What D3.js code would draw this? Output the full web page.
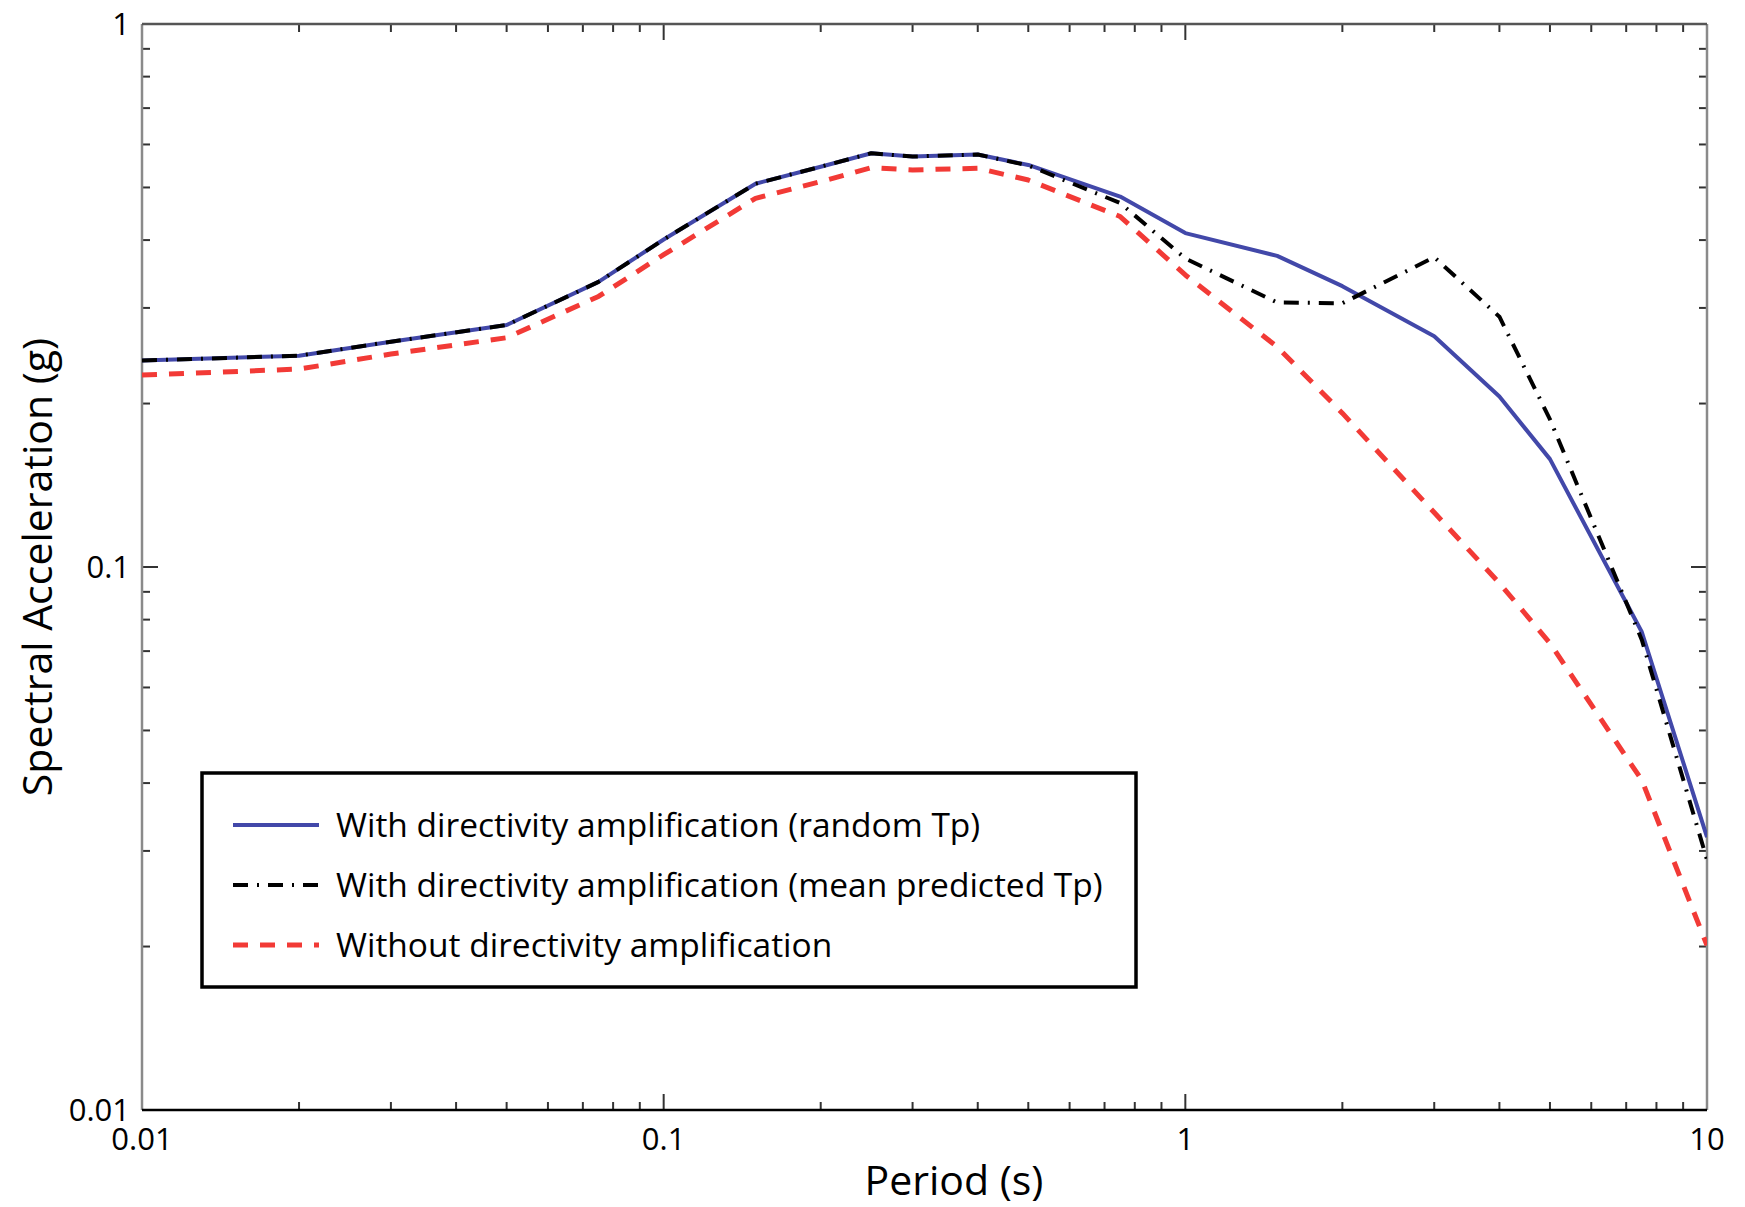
<!DOCTYPE html>
<html>
<head>
<meta charset="utf-8">
<script src="https://cdn.jsdelivr.net/npm/d3@7"></script>
<style>
  html, body { margin: 0; padding: 0; background: #fff; }
  svg { display: block; font-family: "Open Sans", "Noto Sans", sans-serif; }
</style>
</head>
<body>
<svg id="chart" width="1745" height="1207"></svg>
<script>
// ---- data ----
const periods = [0.01, 0.02, 0.03, 0.05, 0.075, 0.1, 0.15, 0.2, 0.25, 0.3, 0.4, 0.5, 0.75, 1, 1.5, 2, 3, 4, 5, 7.5, 10];
const saRandomTp = [0.240, 0.245, 0.260, 0.279, 0.335, 0.401, 0.508, 0.546, 0.578, 0.570, 0.575, 0.550, 0.481, 0.412, 0.374, 0.329, 0.266, 0.206, 0.158, 0.0759, 0.0318];
const saMeanTp   = [0.240, 0.245, 0.260, 0.279, 0.335, 0.401, 0.508, 0.546, 0.578, 0.570, 0.575, 0.549, 0.468, 0.370, 0.307, 0.306, 0.372, 0.289, 0.187, 0.0734, 0.0289];
const saNoDir    = [0.2257, 0.2315, 0.2467, 0.2644, 0.315, 0.376, 0.4775, 0.5125, 0.5437, 0.5385, 0.5424, 0.516, 0.442, 0.345, 0.2544, 0.192, 0.126, 0.0934, 0.0724, 0.0405, 0.0201];
const seriesNames = [
  "With directivity amplification (random Tp)",
  "With directivity amplification (mean predicted Tp)",
  "Without directivity amplification"
];
const xTickValues = [0.01, 0.1, 1, 10];
const xTickLabels = ["0.01", "0.1", "1", "10"];
const yTickValues = [0.01, 0.1, 1];
const yTickLabels = ["0.01", "0.1", "1"];
const xTitle = "Period (s)";
const yTitle = "Spectral Acceleration (g)";

// ---- layout ----
const L = 142, R = 1707, T = 24, B = 1110;
const svg = d3.select("#chart");
const x = d3.scaleLog().domain([0.01, 10]).range([L, R]);
const y = d3.scaleLog().domain([0.01, 1]).range([B, T]);

const styles = [
  { color: "#4248a9", width: 4, dash: null },
  { color: "#000000", width: 4, dash: "15,9,2,9" },
  { color: "#f23a36", width: 5, dash: "15,12" }
];
const seriesValues = [saRandomTp, saMeanTp, saNoDir];

// minor + major ticks
const minorVals = (lo, hi) => {
  const out = [];
  for (let e = Math.log10(lo); e < Math.log10(hi); e++) {
    for (let k = 2; k <= 9; k++) out.push(k * Math.pow(10, e));
  }
  return out;
};
const tickColor = "#333";
const xMinor = minorVals(0.01, 10), yMinor = minorVals(0.01, 1);
const gt = svg.append("g").attr("stroke", tickColor).attr("stroke-width", 2);
xMinor.forEach(v => {
  gt.append("line").attr("x1", x(v)).attr("x2", x(v)).attr("y1", B).attr("y2", B - 8);
  gt.append("line").attr("x1", x(v)).attr("x2", x(v)).attr("y1", T).attr("y2", T + 8);
});
xTickValues.forEach(v => {
  gt.append("line").attr("x1", x(v)).attr("x2", x(v)).attr("y1", B).attr("y2", B - 16);
  gt.append("line").attr("x1", x(v)).attr("x2", x(v)).attr("y1", T).attr("y2", T + 16);
});
yMinor.forEach(v => {
  gt.append("line").attr("y1", y(v)).attr("y2", y(v)).attr("x1", L).attr("x2", L + 8);
  gt.append("line").attr("y1", y(v)).attr("y2", y(v)).attr("x1", R).attr("x2", R - 8);
});
yTickValues.forEach(v => {
  gt.append("line").attr("y1", y(v)).attr("y2", y(v)).attr("x1", L).attr("x2", L + 16);
  gt.append("line").attr("y1", y(v)).attr("y2", y(v)).attr("x1", R).attr("x2", R - 16);
});

// frame
svg.append("line").attr("x1", L).attr("x2", L).attr("y1", T).attr("y2", B).attr("stroke", "#8a8a8a").attr("stroke-width", 2.5);
svg.append("line").attr("x1", R).attr("x2", R).attr("y1", T).attr("y2", B).attr("stroke", "#8a8a8a").attr("stroke-width", 2.5);
svg.append("line").attr("x1", L).attr("x2", R).attr("y1", T).attr("y2", T).attr("stroke", "#555").attr("stroke-width", 2.5);
svg.append("line").attr("x1", L).attr("x2", R).attr("y1", B).attr("y2", B).attr("stroke", "#000").attr("stroke-width", 2.5);

// tick labels
const fs = 31;
svg.append("g").selectAll("text").data(xTickValues).join("text")
  .attr("x", d => x(d)).attr("y", B + 40)
  .attr("text-anchor", "middle").attr("font-size", fs).attr("fill", "#000")
  .text((d, i) => xTickLabels[i]);
svg.append("g").selectAll("text").data(yTickValues).join("text")
  .attr("x", L - 12).attr("y", d => y(d))
  .attr("dy", "0.34em")
  .attr("text-anchor", "end").attr("font-size", fs).attr("fill", "#000")
  .text((d, i) => yTickLabels[i]);

// axis titles
svg.append("text").attr("x", 954).attr("y", B + 85)
  .attr("text-anchor", "middle").attr("font-size", 41).attr("fill", "#000").text(xTitle);
svg.append("text").attr("transform", `translate(52,${(T + B) / 2}) rotate(-90)`)
  .attr("text-anchor", "middle").attr("font-size", 41).attr("fill", "#000").text(yTitle);

// clip
svg.append("clipPath").attr("id", "clip").append("rect")
  .attr("x", L).attr("y", T).attr("width", R - L).attr("height", B - T);

const line = d3.line().x(d => x(d[0])).y(d => y(d[1]));
const gl = svg.append("g").attr("clip-path", "url(#clip)");
seriesValues.forEach((vals, i) => {
  const pts = periods.map((p, j) => [p, vals[j]]);
  gl.append("path").attr("d", line(pts))
    .attr("fill", "none").attr("stroke", styles[i].color)
    .attr("stroke-width", styles[i].width)
    .attr("stroke-dasharray", styles[i].dash)
    .attr("stroke-linejoin", "round");
});

// legend
const lg = svg.append("g");
lg.append("rect").attr("x", 202).attr("y", 773).attr("width", 934).attr("height", 214)
  .attr("fill", "#fff").attr("stroke", "#000").attr("stroke-width", 3.5);
const legY = [825, 885, 945];
seriesNames.forEach((name, i) => {
  lg.append("line").attr("x1", 233).attr("x2", 319).attr("y1", legY[i]).attr("y2", legY[i])
    .attr("stroke", styles[i].color).attr("stroke-width", styles[i].width)
    .attr("stroke-dasharray", styles[i].dash);
  lg.append("text").attr("x", 336).attr("y", legY[i]).attr("dy", "0.36em")
    .attr("font-size", 33.5).attr("fill", "#000").text(name);
});
</script>
</body>
</html>
